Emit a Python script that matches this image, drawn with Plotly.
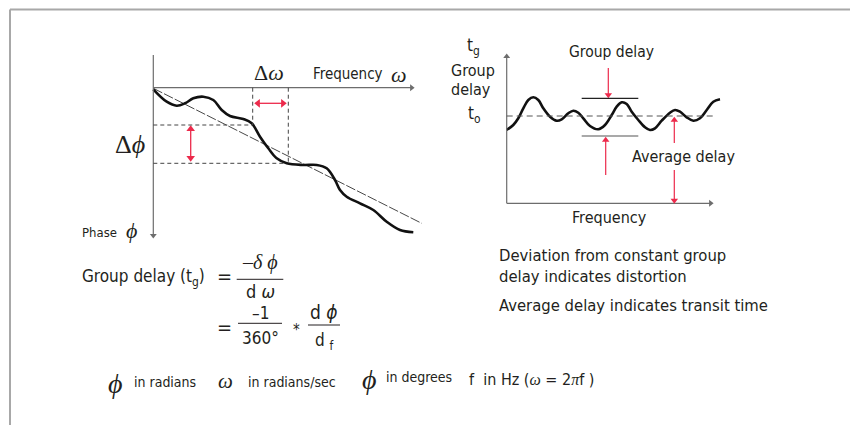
import math
import plotly.graph_objects as go

# ---------------- data ----------------
# Phase curve (left diagram), pixel-space coordinates
phase_x = [153.3, 166.7, 176.7, 185.0, 193.3, 203.3, 213.3, 221.7, 230.0, 243.3, 251.7, 260.0,
           268.3, 276.7, 286.7, 303.3, 316.7, 326.7, 335.0, 340.0, 346.7, 360.0, 373.3, 386.7,
           400.0, 413.3]
phase_y = [89.3, 101.7, 105.7, 103.3, 98.3, 96.7, 100.0, 110.0, 116.0, 119.0, 123.3, 136.7,
           148.3, 158.3, 163.3, 165.0, 165.0, 168.3, 180.0, 190.0, 196.7, 203.3, 210.0, 221.7,
           230.0, 232.3]
# Linear phase reference line
linear_x = [153.3, 421.7]
linear_y = [88.3, 223.3]

# Group delay curve (right diagram)
gd_x = [506.7, 513.3, 518.3, 523.3, 528.3, 533.3, 538.3, 543.3, 550.0, 556.7, 561.7, 568.3,
        573.3, 578.3, 583.3, 590.0, 598.3, 605.0, 611.7, 616.7, 621.7, 626.7, 631.7, 638.3,
        645.0, 650.0, 655.0, 661.7, 670.0, 675.0, 680.0, 686.7, 693.3, 700.0, 706.7, 713.3,
        720.0]
gd_y = [130.0, 125.0, 118.3, 108.3, 100.0, 97.3, 100.0, 108.3, 116.7, 120.7, 119.3, 113.3,
        110.7, 112.7, 118.3, 126.0, 129.3, 125.0, 115.0, 106.7, 102.3, 104.0, 111.7, 120.0,
        127.3, 130.0, 128.3, 120.7, 112.7, 110.0, 111.7, 117.3, 120.7, 118.3, 110.0, 101.7,
        99.3]
avg_delay_y = 116.0
gd_max_y = 98.3
gd_min_y = 136.0

# Text labels
left_x_label = "Frequency"
right_x_label = "Frequency"
phase_label = "Phase"
formula_label = "Group delay (t<sub>g</sub>)"
note_lines = ["Deviation from constant group", "delay indicates distortion"]
note_transit = "Average delay indicates transit time"

SANS = "Liberation Sans Narrow, DejaVu Sans Condensed, Arial Narrow, sans-serif"
SERIF = "Liberation Serif, DejaVu Serif, serif"
TXT = "#231f20"
RED = "#ec2a4b"
GREY = "#6d6d6d"

fig = go.Figure()

fig.add_trace(go.Scatter(x=linear_x, y=linear_y, mode="lines",
                         line=dict(color="#333", width=0.9, dash="10px,2px"),
                         hoverinfo="skip"))
fig.add_trace(go.Scatter(x=phase_x, y=phase_y, mode="lines", line_shape="spline",
                         line=dict(color="#111", width=2.6), hoverinfo="skip"))
fig.add_trace(go.Scatter(x=gd_x, y=gd_y, mode="lines", line_shape="spline",
                         line=dict(color="#111", width=2.6), hoverinfo="skip"))

shapes = []
def line(x0, y0, x1, y1, color=GREY, width=1, dash=None):
    d = dict(type="line", x0=x0, y0=y0, x1=x1, y1=y1, xref="x", yref="y",
             line=dict(color=color, width=width))
    if dash:
        d["line"]["dash"] = dash
    shapes.append(d)

# frame
line(10, 425, 10, 9.5, color="#a8a8a8", width=2)
line(10, 9.5, 850, 9.5, color="#a8a8a8", width=2)

# left diagram dashed helper lines
line(252.7, 87.7, 252.7, 125, color="#444", width=1, dash="4px,3px")
line(288.3, 87.7, 288.3, 163.3, color="#444", width=1, dash="4px,3px")
line(153.3, 125, 252.7, 125, color="#444", width=1, dash="4px,3px")
line(153.3, 163.3, 285, 163.3, color="#444", width=1, dash="4px,3px")

# right diagram lines
line(506.7, avg_delay_y, 716.7, avg_delay_y, color="#555", width=1, dash="6px,4px")
line(581.7, gd_max_y, 638.3, gd_max_y, color="#222", width=1.2)
line(581.7, gd_min_y, 638.3, gd_min_y, color="#555", width=1.2)

# fraction bars
line(236.7, 279.3, 283.3, 279.3, color=TXT, width=1)
line(238, 323.3, 282, 323.3, color=TXT, width=1)
line(308, 325, 340, 325, color=TXT, width=1)


def arrow(x0, y0, x1, y1, color, width=1.3, size=7, both=False):
    """Line from (x0,y0) to tip (x1,y1) with triangular head(s)."""
    L = math.hypot(x1 - x0, y1 - y0)
    ux, uy = (x1 - x0) / L, (y1 - y0) / L
    back = size * 0.5
    sx0, sy0 = (x0 + ux * back, y0 + uy * back) if both else (x0, y0)
    fig.add_trace(go.Scatter(x=[sx0, x1 - ux * back], y=[sy0, y1 - uy * back], mode="lines",
                             line=dict(color=color, width=width), hoverinfo="skip"))
    hx, hy, ang = [x1 - ux * back * 0.8], [y1 - uy * back * 0.8], [math.degrees(math.atan2(ux, -uy))]
    if both:
        hx.append(x0 + ux * back * 0.8)
        hy.append(y0 + uy * back * 0.8)
        ang.append(math.degrees(math.atan2(-ux, uy)))
    fig.add_trace(go.Scatter(x=hx, y=hy, mode="markers", hoverinfo="skip",
                             marker=dict(symbol="triangle-up", size=size, angle=ang,
                                         color=color, line=dict(width=0))))

# axes
arrow(153.3, 55, 153.3, 238, GREY, width=1.2, size=6)
arrow(153.3, 87.7, 414, 87.7, GREY, width=1.2, size=6)
arrow(506.7, 203.3, 506.7, 54, GREY, width=1.2, size=6)
arrow(506.7, 203.3, 713, 203.3, GREY, width=1.2, size=6)

# red arrows
arrow(255, 103.3, 286, 103.3, RED, width=1.3, size=7.5, both=True)
arrow(190.7, 126, 190.7, 161, RED, width=1.3, size=7.5, both=True)
arrow(608.3, 68, 608.3, 97.5, RED, width=1.2, size=6.5)
arrow(605.7, 175, 605.7, 137.5, RED, width=1.2, size=6.5)
arrow(674.3, 143, 674.3, 117.5, RED, width=1.2, size=6.5)
arrow(674.3, 170, 674.3, 203, RED, width=1.2, size=6.5)

annotations = []
def txt(x, y, s, size, family=SANS, anchor="left", color=TXT, align="left"):
    annotations.append(dict(x=x, y=y, xref="x", yref="y", text=s, showarrow=False,
                            xanchor=anchor, yanchor="middle", align=align,
                            font=dict(family=family, size=size, color=color)))

# left diagram labels
txt(311, 74, left_x_label, 15)
txt(389, 74, "<i>ω</i>", 22, SERIF)
txt(252, 72, "Δ<i>ω</i>", 22, SERIF)
txt(113, 144, "Δ<i>ϕ</i>", 26, SERIF)
txt(80, 232, phase_label, 13)
txt(124, 230, "<i>ϕ</i>", 22, SERIF)

# right diagram labels
txt(465, 46, "t<sub>g</sub>", 17)
txt(449, 70, "Group", 16)
txt(449, 89, "delay", 16)
txt(466, 114, "t<sub>o</sub>", 17)
txt(611, 51.7, "Group delay", 15.5, anchor="center")
txt(630, 156.7, "Average delay", 16)
txt(609, 217, right_x_label, 16, anchor="center")

# formula
txt(80, 277, formula_label, 17)
txt(215, 276, "=", 20, SANS)
txt(260, 262, "–<i>δ ϕ</i>", 20, SERIF, anchor="center")
txt(260, 291, "d <i>ω</i>", 18, SANS, anchor="center")
txt(215, 327, "=", 20, SANS)
txt(260, 313, "–1", 17, SANS, anchor="center")
txt(260, 338, "360°", 17, SANS, anchor="center")
txt(296.7, 330, "*", 15, SANS, anchor="center")
txt(324, 312, "d <i>ϕ</i>", 19, SANS, anchor="center")
txt(324, 341, "d <sub>f</sub>", 17, SANS, anchor="center")

# bottom legend line
txt(106, 383, "<i>ϕ</i>", 28, SERIF)
txt(132, 382, "in radians", 14)
txt(216, 381, "<i>ω</i>", 21, SERIF)
txt(246, 382, "in radians/sec", 14)
txt(360, 379, "<i>ϕ</i>", 28, SERIF)
txt(384, 377, "in degrees", 14)
txt(467, 379, "f  in Hz (<i><span style='font-family:Liberation Serif'>ω</span></i> = 2<i><span style='font-family:Liberation Serif'>π</span></i>f )", 16)

# right notes
txt(497, 265.5, "<br>".join(note_lines), 16.5)
txt(497, 305, note_transit, 16.5)

fig.update_layout(
    width=850, height=425,
    margin=dict(l=0, r=0, t=0, b=0),
    paper_bgcolor="white", plot_bgcolor="white",
    showlegend=False,
    xaxis=dict(range=[0, 850], visible=False, fixedrange=True),
    yaxis=dict(range=[425, 0], visible=False, fixedrange=True),
    shapes=shapes, annotations=annotations,
)

fig.write_html("out.html", post_script="document.body.style.margin='0';",
               config={"displayModeBar": False})
